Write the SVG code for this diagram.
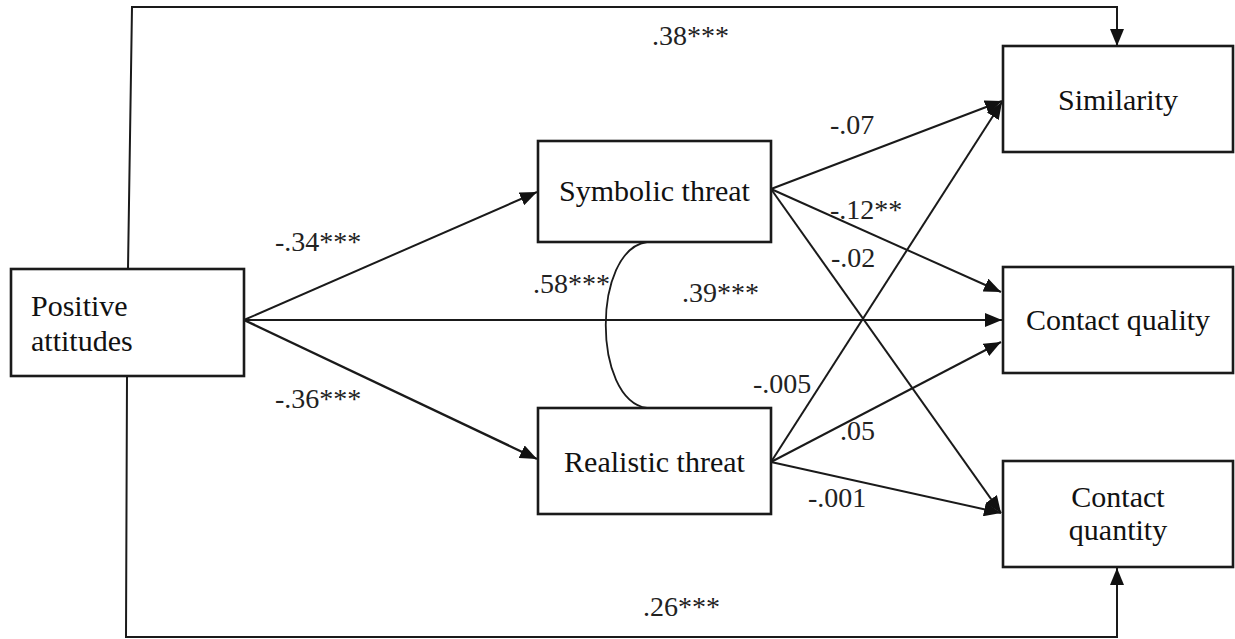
<svg xmlns="http://www.w3.org/2000/svg" width="1235" height="639" viewBox="0 0 1235 639">
<style>
.box{fill:#fff;stroke:#1a1a1a;stroke-width:2.6}
.ln{fill:none;stroke:#1a1a1a;stroke-width:2}
.nt{font-family:'Liberation Serif','DejaVu Serif','Times New Roman',serif;font-size:30px;fill:#111}
.lb{font-family:'Liberation Serif','DejaVu Serif','Times New Roman',serif;font-size:28px;fill:#222}
</style>
<defs>
<marker id="ah" markerUnits="userSpaceOnUse" markerWidth="17" markerHeight="14" refX="17" refY="7" orient="auto" viewBox="0 0 17 14">
<path d="M0,0 L17,7 L0,14 z" fill="#111"/>
</marker>
</defs>
<g id="connectors">
<path class="ln" d="M128,269 L132,7 L1117,7 L1117,46" marker-end="url(#ah)"/>
<path class="ln" d="M127,376 L126,637 L1117,637 L1117,568" marker-end="url(#ah)"/>
<line class="ln" x1="244" y1="320" x2="537" y2="192" marker-end="url(#ah)"/>
<line class="ln" x1="244" y1="320" x2="1002" y2="320" marker-end="url(#ah)"/>
<line class="ln" x1="244" y1="320" x2="537" y2="459" marker-end="url(#ah)" style="stroke-width:2.4"/>
<line class="ln" x1="771" y1="189" x2="1002" y2="101" marker-end="url(#ah)"/>
<line class="ln" x1="771" y1="189" x2="1001" y2="292" marker-end="url(#ah)"/>
<line class="ln" x1="771" y1="189" x2="1001" y2="513" marker-end="url(#ah)"/>
<line class="ln" x1="771" y1="462" x2="1002" y2="102" marker-end="url(#ah)"/>
<line class="ln" x1="771" y1="462" x2="1001" y2="342" marker-end="url(#ah)"/>
<line class="ln" x1="771" y1="462" x2="1001" y2="513" marker-end="url(#ah)"/>
<path class="ln" d="M647,242 C592,250 592,400 647,408" style="stroke-width:1.8"/>
</g>
<g id="labels">
<text class="lb" x="652" y="45">.38***</text>
<text class="lb" x="643" y="616">.26***</text>
<text class="lb" x="275" y="251">-.34***</text>
<text class="lb" x="275" y="408">-.36***</text>
<text class="lb" x="533" y="293">.58***</text>
<text class="lb" x="682" y="302">.39***</text>
<text class="lb" x="830" y="134">-.07</text>
<text class="lb" x="830" y="219">-.12**</text>
<text class="lb" x="831" y="267">-.02</text>
<text class="lb" x="753" y="393">-.005</text>
<text class="lb" x="840" y="440">.05</text>
<text class="lb" x="808" y="507">-.001</text>
</g>
<g id="positive-attitudes">
<rect class="box" x="11" y="269" width="233" height="107"/>
<text class="nt" x="31" y="316">Positive</text>
<text class="nt" x="31" y="351">attitudes</text>
</g>
<g id="symbolic-threat">
<rect class="box" x="538" y="141" width="233" height="101"/>
<text class="nt" x="654.5" y="201" text-anchor="middle">Symbolic threat</text>
</g>
<g id="realistic-threat">
<rect class="box" x="538" y="408" width="233" height="106"/>
<text class="nt" x="654.5" y="472" text-anchor="middle">Realistic threat</text>
</g>
<g id="similarity">
<rect class="box" x="1003" y="46" width="230" height="106"/>
<text class="nt" x="1118" y="110" text-anchor="middle">Similarity</text>
</g>
<g id="contact-quality">
<rect class="box" x="1003" y="267" width="230" height="106"/>
<text class="nt" x="1118" y="330" text-anchor="middle">Contact quality</text>
</g>
<g id="contact-quantity">
<rect class="box" x="1003" y="461" width="230" height="106"/>
<text class="nt" x="1118" y="507" text-anchor="middle">Contact</text>
<text class="nt" x="1118" y="540" text-anchor="middle">quantity</text>
</g>
</svg>
